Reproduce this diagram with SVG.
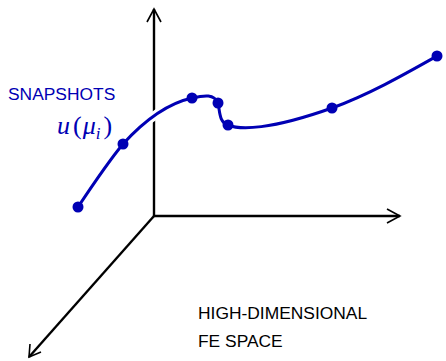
<svg xmlns="http://www.w3.org/2000/svg" width="446" height="361" viewBox="0 0 446 361">
<style>
.axis{stroke:#000;stroke-width:2.4;fill:none}
.head{stroke:#000;stroke-width:1.6;fill:none}
.curve{stroke:#0000b4;stroke-width:3;fill:none;stroke-linecap:round}
.dot{fill:#0000b4}
.lbl{font-family:"Liberation Sans",Arial,sans-serif;font-size:17.4px}
</style>
<rect width="446" height="361" fill="#fff"/>
<g id="axes">
<line class="axis" x1="154" y1="216" x2="154" y2="9"/>
<polyline class="head" points="147,22 154,9 161,22"/>
<line class="axis" x1="154" y1="216" x2="400" y2="216"/>
<polyline class="head" points="387,209 400,216 387,223"/>
<line class="axis" x1="154" y1="216" x2="29" y2="357"/>
<polyline class="head" points="30,344 29,357 41,352"/>
</g>
<g id="curve">
<path d="M78,207 C92,186 108,162 123,144 C143,122 165,104 192,98 C205,95 214,94 218,103 C220,112 219,122 228,125 C240,130 270,130 332,108 C370,94 405,74 437,56" stroke="#fff" stroke-width="9" fill="none"/>
<path class="curve" d="M78,207 C92,186 108,162 123,144 C143,122 165,104 192,98 C205,95 214,94 218,103 C220,112 219,122 228,125 C240,130 270,130 332,108 C370,94 405,74 437,56"/>
<circle class="dot" cx="78" cy="207" r="5.5"/>
<circle class="dot" cx="123" cy="144" r="5.5"/>
<circle class="dot" cx="192" cy="98" r="5.5"/>
<circle class="dot" cx="218" cy="103" r="5.5"/>
<circle class="dot" cx="228" cy="125" r="5.5"/>
<circle class="dot" cx="332" cy="108" r="5.5"/>
<circle class="dot" cx="437" cy="56" r="5.5"/>
</g>
<g id="labels">
<text class="lbl" x="8" y="100" fill="#0000b4">SNAPSHOTS</text>
<text x="57" y="134" fill="#0000b4" font-family="'Liberation Serif','Times New Roman',serif" font-size="26" font-style="italic">u<tspan font-style="normal" dx="3">(</tspan><tspan dx="1">μ</tspan><tspan font-size="17" dy="5">i</tspan><tspan font-style="normal" dy="-5" dx="3">)</tspan></text>
<text class="lbl" x="198" y="319" fill="#000">HIGH-DIMENSIONAL</text>
<text class="lbl" x="198" y="347" fill="#000">FE SPACE</text>
</g>
</svg>
